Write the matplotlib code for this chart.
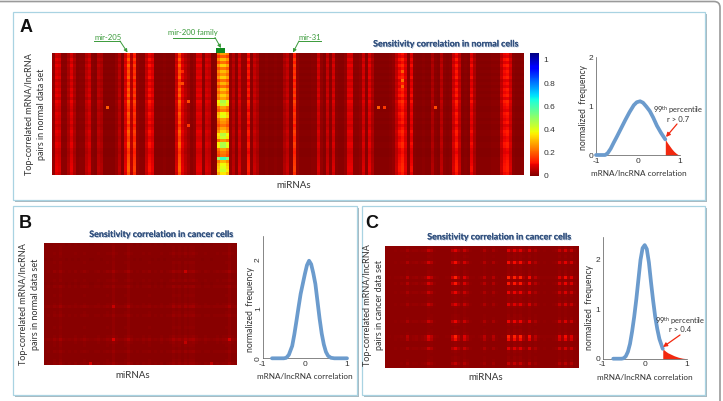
import numpy as np
import matplotlib
matplotlib.use("Agg")
import matplotlib.pyplot as plt
import matplotlib.patheffects as pe
from matplotlib.patches import Rectangle, FancyBboxPatch

W, H = 723, 401
plt.rcParams['axes.unicode_minus'] = False
plt.rcParams['mathtext.default'] = 'regular'

LABEL_FONT = ['Lato', 'Open Sans', 'DejaVu Sans']
TICK_FONT = ['Liberation Sans', 'DejaVu Sans']

# Panel A: per-miRNA sensitivity correlation strength, left to right
normal_columns = [
    .02, .08, .07, .012, .012, .04, .08, .04, .008, .012,
    .012, .05, .07, .012, .008, .05, .04, .008, .008, .008,
    .008, .02, .05, .008, .08, .17, .05, .14, .02, .012,
    .012, .06, .10, .08, .008, .008, .008, .012, .008, .008,
    .008, .07, .17, .08, .05, .03, .012, .02, .08, .08,
    .012, .07, .06, .008, .012, .3, .3, .3, .3, .02,
    .05, .012, .07, .02, .02, .11, .012, .06, .04, .008,
    .008, .012, .008, .008, .012, .008, .008, .04, .06, .012,
    .14, .02, .008, .008, .008, .008, .012, .012, .07, .02,
    .008, .06, .012, .07, .012, .008, .008, .02, .08, .08,
    .012, .012, .02, .07, .012, .08, .04, .008, .008, .008,
    .008, .008, .012, .02, .06, .10, .12, .08, .012, .09,
    .012, .008, .008, .012, .008, .008, .04, .012, .008, .05,
    .012, .008, .012, .07, .11, .06, .008, .012, .008, .09,
    .04, .008, .008, .008, .008, .008, .012, .012, .012, .06,
    .10, .11, .07, .012, .008, .008, .012,
]
normal_row_gain = [
    1.0, .85, 1.15, .9, 1.2, .95, 1.1, 1.0, 1.2, .85,
    1.05, .9, 1.15, 1.0, 1.2, .9, 1.25, 1.1, 1.0, .9,
    1.15, 1.05, .95, 1.1, .85, 1.0, 1.2, 1.1, .95, 1.0,
    1.2, 1.15, .95, .9, 1.0, 1.05, 1.1, 1.15, 1.2, 1.2, 1.05,
]
# mir-200 family block, one strength per row
mir200_rows = [
    .28, .20, .31, .22, .33, .23, .31, .26, .33, .22,
    .30, .22, .32, .26, .33, .28, .46, .43, .28, .24,
    .38, .40, .28, .26, .22, .28, .33, .45, .42, .26,
    .46, .47, .28, .24, .22, .62, .30, .38, .40, .42, .36,
]
mir200_cols = [55, 56, 57, 58]
mir200_edge = [.8, 1.0, 1.0, .85]
normal_spots_row = [18, 18, 18, 18, 6, 9, 11, 16, 24, 6, 10]
normal_spots_col = [18, 108, 110, 127, 116, 116, 116, 45, 45, 43, 43]
normal_spots_val = [.2, .2, .16, .18, .2, .22, .2, .18, .16, .14, .18]

# Panel B: cancer-cell correlations against normal-set pairs
cancerB_columns = [
    .2, .3, .2, .5, .3, .7, .3, .2, .3, .2,
    .4, .2, .3, .5, .3, .2, .2, .3, .4, .2,
    .3, .5, .4, .9, .4, .3, .3, .5, .9, .4,
    .2, .3, .2, .4, .3, .5, .2, .3, .2, .4,
    .2, .3, .4, .8, .5, .7, .4, .8, .5, .7,
    .8, .4, .3, .2, .4, .3, .2, .3, .4, .3,
    .4, .5, .9, .4, .3,
]
cancerB_rows = [
    .2, .3, .3, .5, .3, .2, .4, .3, .3, .8,
    .3, .3, .5, .2, .6, .3, .3, .4, .3, .3,
    .5, .9, .3, .4, .6, .3, .3, .3, .4, .3,
    .3, .5, 1.0, .5, .4, .3, .6, .3, .3, .4, .7,
]
cancerB_spots_row = [32, 32, 21, 9, 40, 40, 33]
cancerB_spots_col = [23, 62, 23, 47, 15, 56, 47]
cancerB_spots_val = [.09, .08, .07, .07, .08, .06, .06]

# Panel C: cancer-cell correlations against cancer-set pairs
cancerC_columns = [
    .1, .15, .1, .2, .15, .25, .2, .55, .2, .3,
    .35, .2, .3, .4, .8, .6, .25, .15, .1, .1,
    .15, .15, .7, 1.0, .6, .3, .8, .5, .2, .15,
    .1, .15, .25, .6, .2, .15, .55, .2, .1, .15,
    .15, 1.0, .5, 1.0, .6, 1.0, .5, .3, .9, .3,
    .6, .25, .15, .2, .15, .15, .2, .3, .8, .4,
    .9, .4, .8, .3, .15,
]
cancerC_rows = [
    .3, .8, .25, .3, .25, .9, .25, .25, .3, .35,
    1.0, .3, .95, .3, .3, .85, .3, .25, .3, .8,
    .3, .2, .2, .25, .3, .85, .25, .2, .25, .3,
    1.0, .9, .25, .25, .8, .25, .2, .25, .3, .65, .3,
]

# Distribution curves: correlation and normalized frequency
curveA_x = [-1, -.85, -.78, -.72, -.65, -.58, -.5, -.4, -.3, -.2, -.1, -.03, .05, .12, .2, .28, .36, .45, .55, .65]
curveA_y = [0, 0, 0, .04, .13, .25, .38, .55, .72, .88, 1.02, 1.08, 1.1, 1.07, .99, .90, .77, .60, .45, .32]
tailA_x = [.65, .7, .75, .8, .85, .9, .95, 1]
tailA_y = [.32, .25, .19, .13, .08, .04, .01, 0]

curveB_x = [-.78, -.5, -.44, -.38, -.3, -.25, -.2, -.15, -.1, -.05, 0, .05, .1, .15, .2, .25, .3, .35, .4, .45, .5, .55, .62, .7, 1]
curveB_y = [0, 0, .01, .07, .25, .48, .75, 1.03, 1.3, 1.5, 1.7, 1.88, 1.97, 1.9, 1.72, 1.5, 1.15, .8, .5, .28, .13, .05, .01, 0, 0]

curveC_x = [-.75, -.55, -.5, -.45, -.4, -.35, -.3, -.25, -.2, -.15, -.1, -.05, 0, .05, .1, .15, .2, .25, .3, .35, .43]
curveC_y = [0, 0, .01, .05, .14, .3, .55, .85, 1.2, 1.6, 2.0, 2.24, 2.3, 2.22, 1.95, 1.55, 1.18, .85, .6, .4, .2]
tailC_x = [.43, .5, .55, .6, .7, .8, .9, 1]
tailC_y = [.2, .15, .12, .1, .06, .03, .01, 0]

colorbar_ticks = [0, .2, .4, .6, .8, 1]
colorbar_labels = ['0', '0.2', '0.4', '0.6', '0.8', '1']

BLUE = '#6b9bcd'
RED = '#f2280f'
GREEN = '#3a9a3a'
NAVY = '#34527f'
TEXT = '#333333'

fig = plt.figure(figsize=(W / 100, H / 100), dpi=100, facecolor='white')


def px_axes(x0, y0, x1, y1, **kw):
    return fig.add_axes([x0 / W, 1 - y1 / H, (x1 - x0) / W, (y1 - y0) / H], **kw)


# Page layer: outer frame and panel boxes, in pixel units
page = px_axes(0, 0, W, H, zorder=0)
page.set_xlim(0, W)
page.set_ylim(H, 0)
page.axis('off')
page.add_patch(FancyBboxPatch((-30, 1.5), 750, 430, boxstyle='round,pad=0,rounding_size=6',
                              fc='white', ec='#9a9a9a', lw=1.2))
for x0, y0, x1, y1 in [(13, 11.5, 705, 200), (13, 206, 357, 395), (362, 206, 705, 395)]:
    page.add_patch(Rectangle((x0 + 2, y0 + 2), x1 - x0, y1 - y0, fc='#a9b8bf', ec='none'))
    page.add_patch(Rectangle((x0, y0), x1 - x0, y1 - y0, fc='white', ec='#a9d3e2', lw=0.9))


def heat(rect, M):
    ax = px_axes(*rect, zorder=1)
    im = ax.imshow(M, cmap='jet_r', vmin=0, vmax=1.06, aspect='auto', interpolation='nearest')
    ax.axis('off')
    return im


# Panel A heatmap
A = np.outer(normal_columns, normal_row_gain)
for c, e in zip(mir200_cols, mir200_edge):
    A[c] = np.array(mir200_rows) * e
A[normal_spots_col, normal_spots_row] = normal_spots_val
im = heat((52, 53, 523.5, 175.5), A.T)

cax = px_axes(530, 53, 539, 176, zorder=1)
cb = fig.colorbar(im, cax=cax)
cb.set_ticks(colorbar_ticks, labels=colorbar_labels)
cb.ax.tick_params(length=0, pad=3, labelsize=6, labelcolor=TEXT)
for t in cb.ax.get_yticklabels():
    t.set_fontfamily(TICK_FONT)
cb.outline.set_visible(False)

# Panel B and C heatmaps; C squares the product so only hot row/column crossings light up
B = 0.006 + 0.04 * np.outer(cancerB_columns, cancerB_rows)
B[cancerB_spots_col, cancerB_spots_row] = cancerB_spots_val
heat((44, 243, 237, 365), B.T)
C = 0.014 + 0.12 * np.outer(cancerC_columns, cancerC_rows) ** 2
heat((384.5, 245.5, 578, 367.5), C.T)


def curve_axes(rect, ymax, x, y, tail=None, rotate=False, yticks=(0, 1, 2)):
    ax = px_axes(*rect, zorder=1)
    ax.patch.set_alpha(0)
    ax.set_xlim(-1, 1)
    ax.set_ylim(0, ymax)
    if tail is not None:
        ax.fill_between(tail[0], tail[1], 0, color=RED, lw=0, zorder=2)
    ax.plot(x, y, color=BLUE, lw=2.7, solid_capstyle='round', solid_joinstyle='round',
            zorder=3, clip_on=False)
    for s in ('top', 'right'):
        ax.spines[s].set_visible(False)
    for s in ('left', 'bottom'):
        ax.spines[s].set_linewidth(0.5)
        ax.spines[s].set_color('#555555')
    ax.set_xticks([-1, 0, 1], ['-1', '0', '1'])
    ax.set_yticks(list(yticks), [str(v) for v in yticks])
    ax.tick_params(length=0, labelsize=6, labelcolor=TEXT, pad=2)
    for t in ax.get_xticklabels() + ax.get_yticklabels():
        t.set_fontfamily(TICK_FONT)
    if rotate:
        ax.tick_params(axis='y', pad=0.5)
        for t in ax.get_yticklabels():
            t.set_rotation(90)
            t.set_va('center')
    return ax


curve_axes((596, 57.3, 680, 155), 2, curveA_x, curveA_y, (tailA_x, tailA_y))
curve_axes((262.7, 236, 347, 358.3), 2.47, curveB_x, curveB_y, rotate=True)
curve_axes((602.7, 236.7, 686.7, 358.7), 2.47, curveC_x, curveC_y, (tailC_x, tailC_y))

# Annotation layer on top, in pixel units
top = px_axes(0, 0, W, H, zorder=3)
top.set_xlim(0, W)
top.set_ylim(H, 0)
top.axis('off')
top.patch.set_alpha(0)


def label(x, y, s, size=6.6, color=TEXT, rotation=0, weight='normal', family=LABEL_FONT, **kw):
    return top.text(x, y, s, fontsize=size, color=color, rotation=rotation, weight=weight,
                    family=family, ha='center', va='center', **kw)


for x, y, s in [(26, 28, 'A'), (25, 223, 'B'), (372, 223, 'C')]:
    label(x, y, s, size=13, color='#111111', weight='bold', family=['Liberation Sans'])

shadow = [pe.withSimplePatchShadow(offset=(0.6, -0.6), shadow_rgbFace='#9fb4cc', alpha=0.8), pe.Normal()]
for x, y, s in [(445.5, 44, 'Sensitivity correlation in normal cells'),
                (161, 234.5, 'Sensitivity correlation in cancer cells'),
                (499, 237, 'Sensitivity correlation in cancer cells')]:
    label(x, y, s, size=6.4, color=NAVY, weight='bold', path_effects=shadow)

for x, y, s in [(30, 114, 'Top-correlated mRNA/lncRNA'), (42, 114, 'pairs in normal data set'),
                (24, 304, 'Top-correlated mRNA/lncRNA'), (36, 304, 'pairs in normal data set'),
                (367, 305, 'Top-correlated mRNA/lncRNA'), (379, 305, 'pairs in cancer data set')]:
    label(x, y, s, size=6.5, rotation=90)
for x, y in [(294, 186), (133, 375), (486, 377)]:
    label(x, y, 'miRNAs', size=7)
for x, y in [(639, 173), (305, 376.5), (645, 377)]:
    label(x, y, 'mRNA/lncRNA correlation', size=5.9)
for x, y in [(583, 107), (250.5, 310), (590, 307)]:
    label(x, y, 'normalized  frequency', size=6.2, rotation=90)

# miRNA callouts
for s, tx, ty, ux0, ux1, uy, ax0, ay0, ax1, ay1 in [
    ('mir-205', 108, 37, 94, 120, 41, 120, 41, 127.5, 52.5),
    ('mir-200 family', 193, 32.5, 173, 215, 37.5, 215, 37.5, 221, 48),
    ('mir-31', 310, 37, 299, 321, 41, 299, 41, 293, 52.5),
]:
    label(tx, ty, s, size=5.6, color=GREEN)
    top.plot([ux0, ux1], [uy, uy], color=GREEN, lw=0.7)
    top.annotate('', xy=(ax1, ay1), xytext=(ax0, ay0),
                 arrowprops=dict(arrowstyle='-|>', color=GREEN, lw=0.7, mutation_scale=5,
                                 shrinkA=0, shrinkB=0))
top.add_patch(Rectangle((216, 47.5), 9, 5, fc='#0f8a1f', ec='none'))

# Percentile callouts
for x, y0, y1, r, ax0, ay0, ax1, ay1 in [
    (678, 110, 120, 'r > 0.7', 677, 124, 666, 137),
    (680, 321, 330, 'r > 0.4', 680, 335, 663, 347),
]:
    label(x, y0, '99$^{th}$ percentile', size=5.4)
    label(x, y1, r, size=5.6)
    top.annotate('', xy=(ax1, ay1), xytext=(ax0, ay0),
                 arrowprops=dict(arrowstyle='-|>', color=RED, lw=0.9, mutation_scale=6,
                                 shrinkA=0, shrinkB=0))

fig.savefig('out.png', dpi=100, facecolor='white')
